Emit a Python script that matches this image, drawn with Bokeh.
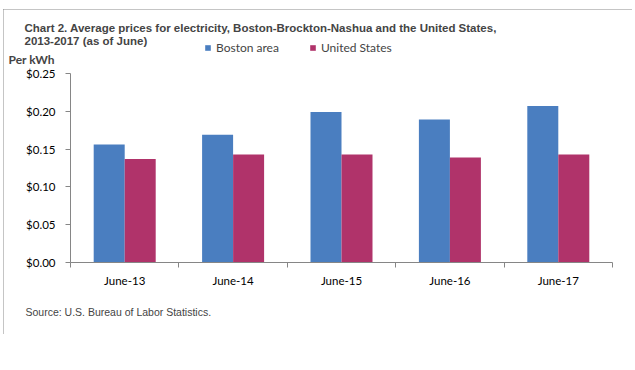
from bokeh.plotting import figure
from bokeh.models import (ColumnDataSource, FixedTicker, NumeralTickFormatter, Range1d,
                          Label, Legend, LegendItem)
from bokeh.embed import file_html
from bokeh.resources import INLINE

# ---- data ----
categories = ["June-13", "June-14", "June-15", "June-16", "June-17"]
boston = [0.156, 0.169, 0.199, 0.189, 0.207]
united_states = [0.137, 0.143, 0.143, 0.139, 0.143]
y_ticks = [0.0, 0.05, 0.10, 0.15, 0.20, 0.25]
series_names = ["Boston area", "United States"]

title_lines = ["Chart 2. Average prices for electricity, Boston-Brockton-Nashua  and the United  States,",
               "2013-2017 (as of June)"]
y_label = "Per kWh"
source_note = "Source: U.S. Bureau of Labor Statistics."

BLUE = "#4A7EC0"
RED = "#B0336A"
GRAY = "#868686"

# ---- layout (pixels, page coordinates) ----
OX, OY = 3, 9            # figure (chart border) top-left on the page
W, H = 629, 325          # chart border box
PL, PR, PT, PB = 70, 612, 73, 262   # plot area on the page
YMAX = 0.25
n = len(categories)
ux = (PR - PL) / n
uy = (PB - PT) / YMAX
x0 = -(PL - OX) / ux
x1 = n + (OX + W - PR) / ux
y0 = -(OY + H - PB) / uy
y1 = YMAX + (PT - OY) / uy

def sx(px):
    return px - OX

def sy(py):
    return OY + H - py

bar_w = 0.286
centers = [i + 0.5 for i in range(n)]
src = ColumnDataSource(dict(
    xb=[c - bar_w / 2 for c in centers],
    xu=[c + bar_w / 2 for c in centers],
    boston=boston, us=united_states))

p = figure(width=W, height=H, output_backend="svg", toolbar_location=None,
           x_range=Range1d(x0, x1), y_range=Range1d(y0, y1),
           min_border=0, min_border_left=0, min_border_right=0,
           min_border_top=0, min_border_bottom=0,
           margin=(OY, 0, 0, OX))
p.styles = {"outline": "1px solid #8a8a8a", "outline-offset": "-1px"}
p.outline_line_color = None
p.xgrid.visible = False
p.ygrid.visible = False

rb = p.vbar(x="xb", top="boston", width=bar_w, source=src, fill_color=BLUE, line_color=None)
ru = p.vbar(x="xu", top="us", width=bar_w, source=src, fill_color=RED, line_color=None)

# y axis
ya = p.yaxis[0]
ya.fixed_location = 0
ya.bounds = (0, YMAX)
ya.ticker = FixedTicker(ticks=y_ticks, minor_ticks=[])
ya.formatter = NumeralTickFormatter(format="$0.00")
ya.axis_line_color = GRAY
ya.major_tick_line_color = GRAY
ya.major_tick_out = 5
ya.major_tick_in = 0
ya.minor_tick_line_color = None
ya.major_label_text_font = "Lato"
ya.major_label_text_font_size = "11.5px"
ya.major_label_text_color = "black"
ya.major_label_standoff = 10

# x axis
xa = p.xaxis[0]
xa.fixed_location = 0
xa.bounds = (0, n)
xa.ticker = FixedTicker(ticks=centers, minor_ticks=list(range(n + 1)))
xa.major_label_overrides = {c: lab for c, lab in zip(centers, categories)}
xa.axis_line_color = GRAY
xa.major_tick_line_color = None
xa.major_tick_out = 0
xa.major_tick_in = 0
xa.minor_tick_line_color = GRAY
xa.minor_tick_out = 5
xa.minor_tick_in = 0
xa.major_label_text_font = "Lato"
xa.major_label_text_font_size = "11.5px"
xa.major_label_text_color = "black"
xa.major_label_standoff = 6

# legend
legend = Legend(items=[LegendItem(label=series_names[0], renderers=[rb]),
                       LegendItem(label=series_names[1], renderers=[ru])],
                orientation="horizontal", location=(sx(204), sy(55)),
                padding=0, margin=0, border_line_alpha=0, background_fill_alpha=0,
                glyph_width=7, glyph_height=7, label_standoff=5, spacing=30,
                label_text_font="Lato", label_text_font_size="12px", label_height=12)
p.add_layout(legend, "center")

# texts
def add_text(txt, px, py, font, size, style="normal"):
    p.add_layout(Label(x=sx(px), y=sy(py), x_units="screen", y_units="screen", text=txt,
                       text_font=font, text_font_style=style, text_font_size=size,
                       text_baseline="alphabetic"))

add_text(title_lines[0], 24, 27.5, "Liberation Sans", "11.5px", "bold")
add_text(title_lines[1], 24, 40, "Liberation Sans", "11.5px", "bold")
add_text(y_label, 8, 59, "Lato", "12px", "bold")
add_text(source_note, 25, 311, "Liberation Sans", "10.5px")

open("out.html", "w").write(file_html(p, INLINE))
